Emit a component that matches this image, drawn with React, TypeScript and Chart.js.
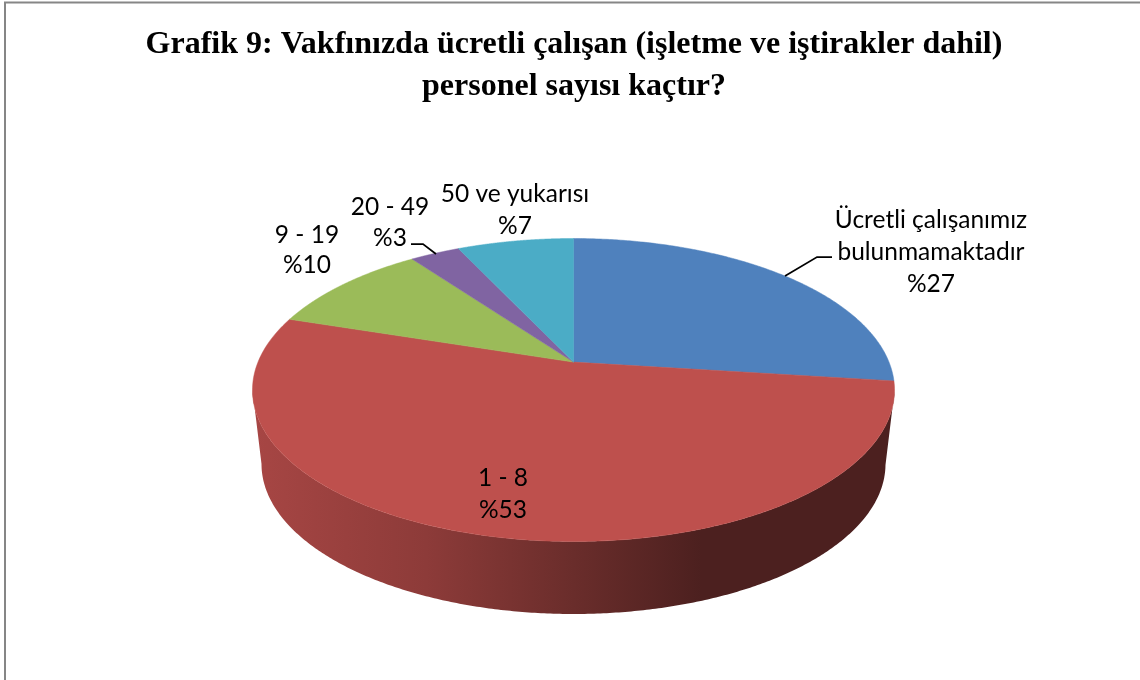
import React, { useEffect, useRef } from "react";
import { Chart, registerables } from "chart.js";

Chart.register(...registerables);

const TITLE_LINES = [
  "Grafik 9: Vakfınızda ücretli çalışan (işletme ve iştirakler dahil)",
  "personel sayısı kaçtır?",
];
const CATEGORIES = ["Ücretli çalışanımız|bulunmamaktadır", "1 - 8", "9 - 19", "20 - 49", "50 ve yukarısı"];
const VALUES = [27, 53, 10, 3, 7];
const COLORS = ["#4F81BD", "#BE504D", "#9BBB59", "#8064A2", "#4BACC6"];

// Where each label's centre line and first baseline sit
const LABEL_X = [931, 503, 307, 390, 515];
const LABEL_Y = [228, 486, 243, 215, 202];
const LABEL_LINE_GAP = [32, 32, 30, 31, 32];

const LEADERS = [
  [[832, 257], [817, 257], [785, 276]],
  [],
  [],
  [[411, 244], [423, 244], [436, 254]],
  [],
];

// Perspective disc and side wall
const PIE = { cx: 573.5, cy: 390, rx: 321, ry: 151.5, apex: -0.184 };
const BASE = { cy: 464, rx: 312, ry: 150 };
const WALL_STOPS = [
  [0, 0.88],
  [0.27, 0.74],
  [0.5, 0.56],
  [0.7, 0.4],
  [1, 0.4],
];

function project(theta: number) {
  const u = Math.cos(theta);
  const v = Math.sin(theta);
  const a = PIE.apex;
  const d = 1 + a * v;
  return { u: (u * Math.sqrt(1 - a * a)) / d, v: (v + a) / d };
}
const topPt = (p: { u: number; v: number }) => [PIE.cx + PIE.rx * p.u, PIE.cy + PIE.ry * p.v];
const basePt = (p: { u: number; v: number }) => [PIE.cx + BASE.rx * p.u, BASE.cy + BASE.ry * p.v];

function shade(hex: string, k: number) {
  const n = parseInt(hex.slice(1), 16);
  const c = [(n >> 16) & 255, (n >> 8) & 255, n & 255].map((x) => Math.round(x * k));
  return `rgb(${c[0]},${c[1]},${c[2]})`;
}

const pie3d = {
  id: "pie3d",
  beforeDatasetsDraw(chart: any) {
    const ctx = chart.ctx;
    const arcs = chart.getDatasetMeta(0).data;
    // walls
    arcs.forEach((arc: any, i: number) => {
      const pts: { u: number; v: number }[] = [];
      const n = 400;
      for (let k = 0; k <= n; k++) {
        const p = project(arc.startAngle + ((arc.endAngle - arc.startAngle) * k) / n);
        if (p.v >= 0) pts.push(p);
      }
      if (pts.length < 2) return;
      const g = ctx.createLinearGradient(PIE.cx - PIE.rx, 0, PIE.cx + PIE.rx, 0);
      WALL_STOPS.forEach(([o, k]) => g.addColorStop(o, shade(COLORS[i], k)));
      ctx.beginPath();
      pts.forEach((p, k) => {
        const [x, y] = topPt(p);
        if (k) ctx.lineTo(x, y);
        else ctx.moveTo(x, y);
      });
      [...pts].reverse().forEach((p) => {
        const [x, y] = basePt(p);
        ctx.lineTo(x, y);
      });
      ctx.closePath();
      ctx.fillStyle = g;
      ctx.fill();
    });
    // top faces
    const apex = topPt({ u: 0, v: PIE.apex });
    arcs.forEach((arc: any, i: number) => {
      ctx.beginPath();
      ctx.moveTo(apex[0], apex[1]);
      const n = 200;
      for (let k = 0; k <= n; k++) {
        const [x, y] = topPt(project(arc.startAngle + ((arc.endAngle - arc.startAngle) * k) / n));
        ctx.lineTo(x, y);
      }
      ctx.closePath();
      ctx.fillStyle = COLORS[i];
      ctx.fill();
      ctx.strokeStyle = COLORS[i];
      ctx.lineWidth = 0.5;
      ctx.stroke();
    });
    return false;
  },
  afterDraw(chart: any) {
    const ctx = chart.ctx;
    ctx.save();
    // page frame
    ctx.strokeStyle = "#868686";
    ctx.lineWidth = 2;
    ctx.beginPath();
    ctx.moveTo(5, 680);
    ctx.lineTo(5, 2.5);
    ctx.lineTo(1140, 2.5);
    ctx.stroke();
    // leaders
    ctx.strokeStyle = "#000";
    ctx.lineWidth = 1.75;
    LEADERS.forEach((pts) => {
      if (!pts.length) return;
      ctx.beginPath();
      pts.forEach(([x, y], k) => (k ? ctx.lineTo(x, y) : ctx.moveTo(x, y)));
      ctx.stroke();
    });
    // labels
    ctx.fillStyle = "#000";
    ctx.font = "24.5px Lato";
    ctx.textAlign = "center";
    ctx.textBaseline = "alphabetic";
    CATEGORIES.forEach((c, i) => {
      const lines = [...c.split("|"), `%${VALUES[i]}`];
      lines.forEach((t, k) => ctx.fillText(t, LABEL_X[i], LABEL_Y[i] + k * LABEL_LINE_GAP[i]));
    });
    ctx.restore();
  },
};

export default function App() {
  const ref = useRef<HTMLCanvasElement>(null);
  useEffect(() => {
    const chart = new Chart(ref.current!, {
      type: "doughnut",
      data: {
        labels: CATEGORIES.map((c) => c.replace("|", " ")),
        datasets: [{ data: VALUES, backgroundColor: COLORS, borderWidth: 0 }],
      },
      options: {
        responsive: false,
        animation: false,
        cutout: 0,
        layout: { padding: { left: 8, top: 24 } },
        plugins: {
          legend: { display: false },
          tooltip: { enabled: false },
          title: {
            display: true,
            text: TITLE_LINES,
            color: "#000",
            font: { family: "'Liberation Serif'", size: 32, weight: "bold", lineHeight: 1.3 },
            padding: 0,
          },
        },
      },
      plugins: [pie3d],
    } as any);
    return () => chart.destroy();
  }, []);
  return (
    <canvas
      ref={ref}
      width={1140}
      height={680}
      style={{ position: "absolute", left: 0, top: 0, background: "#fff", display: "block" }}
    />
  );
}
